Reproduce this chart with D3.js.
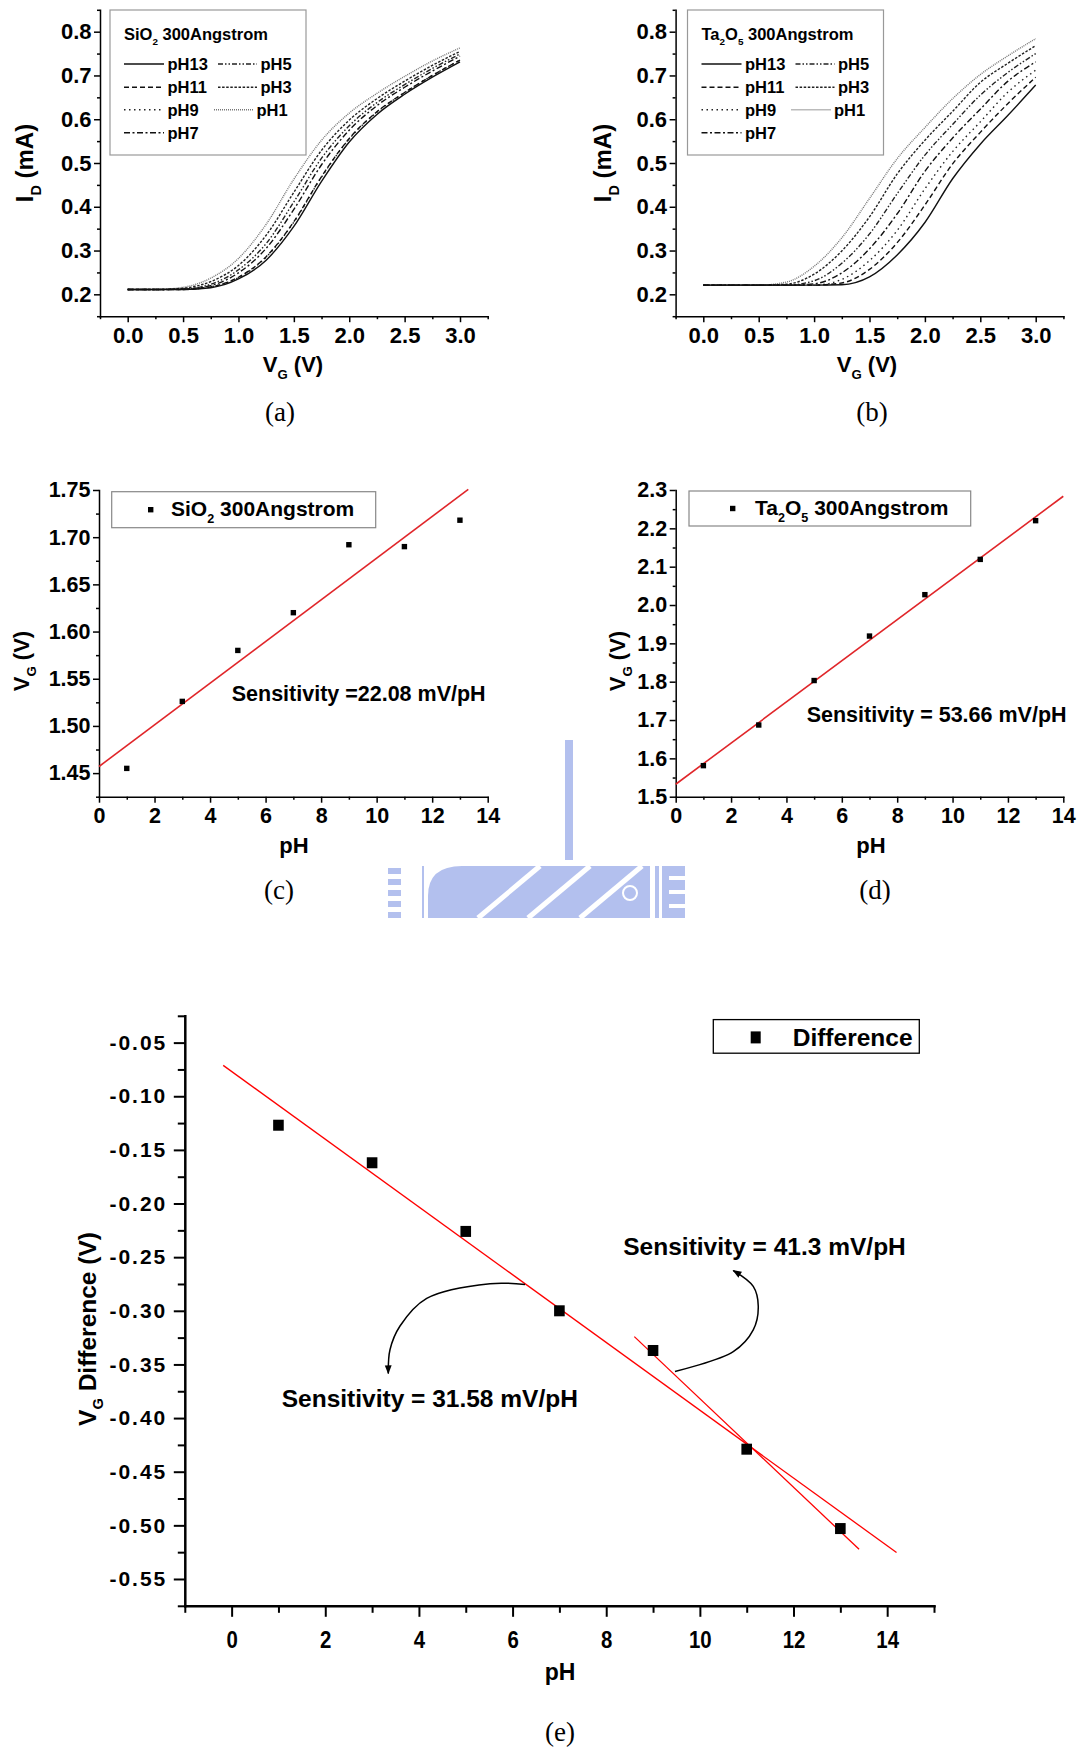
<!DOCTYPE html>
<html>
<head>
<meta charset="utf-8">
<script src="https://cdn.jsdelivr.net/npm/d3@7"></script>
<style>
  body { margin: 0; background: #fff; }
  svg { display: block; font-family: "Liberation Sans", Arial, sans-serif; }
</style>
</head>
<body>
<svg id="fig" width="1082" height="1753"></svg>
<script>
// ---------------- data ----------------
// Gate-voltage sweep (V) shared by all transfer curves
const vgSweep = [0, 0.25, 0.5, 0.75, 1.0, 1.25, 1.5, 1.75, 2.0, 2.25, 2.5, 2.75, 3.0];
const phLabels = ["pH13", "pH11", "pH9", "pH7", "pH5", "pH3", "pH1"];

// SiO2 300 Angstrom, drain current (mA)
const sio2_pH13 = [0.211, 0.211, 0.211, 0.215, 0.235, 0.278, 0.355, 0.458, 0.548, 0.611, 0.657, 0.696, 0.731];
const sio2_pH11 = [0.211, 0.211, 0.211, 0.217, 0.239, 0.286, 0.366, 0.469, 0.556, 0.617, 0.661, 0.700, 0.735];
const sio2_pH9  = [0.211, 0.211, 0.211, 0.217, 0.238, 0.285, 0.365, 0.468, 0.555, 0.616, 0.661, 0.700, 0.735];
const sio2_pH7  = [0.211, 0.211, 0.212, 0.220, 0.249, 0.305, 0.394, 0.496, 0.575, 0.631, 0.673, 0.710, 0.744];
const sio2_pH5  = [0.211, 0.211, 0.212, 0.223, 0.256, 0.316, 0.411, 0.511, 0.585, 0.638, 0.679, 0.716, 0.749];
const sio2_pH3  = [0.211, 0.211, 0.214, 0.229, 0.266, 0.335, 0.433, 0.529, 0.598, 0.647, 0.687, 0.723, 0.755];
const sio2_pH1  = [0.211, 0.211, 0.216, 0.237, 0.282, 0.360, 0.463, 0.552, 0.614, 0.659, 0.698, 0.733, 0.763];

// Ta2O5 300 Angstrom, drain current (mA)
const ta2o5_pH13 = [0.221, 0.221, 0.221, 0.221, 0.221, 0.222, 0.240, 0.290, 0.364, 0.464, 0.543, 0.609, 0.678];
const ta2o5_pH11 = [0.221, 0.221, 0.221, 0.221, 0.221, 0.226, 0.257, 0.318, 0.404, 0.498, 0.570, 0.636, 0.696];
const ta2o5_pH9  = [0.221, 0.221, 0.221, 0.221, 0.221, 0.234, 0.277, 0.346, 0.441, 0.526, 0.594, 0.662, 0.712];
const ta2o5_pH7  = [0.221, 0.221, 0.221, 0.221, 0.224, 0.249, 0.304, 0.384, 0.481, 0.557, 0.623, 0.687, 0.731];
const ta2o5_pH5  = [0.221, 0.221, 0.221, 0.221, 0.231, 0.271, 0.338, 0.430, 0.518, 0.588, 0.655, 0.707, 0.750];
const ta2o5_pH3  = [0.221, 0.221, 0.221, 0.223, 0.246, 0.299, 0.377, 0.475, 0.552, 0.618, 0.684, 0.728, 0.768];
const ta2o5_pH1  = [0.221, 0.221, 0.221, 0.228, 0.264, 0.329, 0.419, 0.510, 0.581, 0.647, 0.702, 0.745, 0.784];

const sio2Curves  = [sio2_pH13, sio2_pH11, sio2_pH9, sio2_pH7, sio2_pH5, sio2_pH3, sio2_pH1];
const ta2o5Curves = [ta2o5_pH13, ta2o5_pH11, ta2o5_pH9, ta2o5_pH7, ta2o5_pH5, ta2o5_pH3, ta2o5_pH1];

// Threshold gate voltage vs pH
const phValues     = [1, 3, 5, 7, 9, 11, 13];
const sio2Vg       = [1.455, 1.526, 1.580, 1.620, 1.692, 1.690, 1.718];
const ta2o5Vg      = [1.581, 1.687, 1.803, 1.919, 2.027, 2.119, 2.220];
const vgDifference = [-0.127, -0.162, -0.226, -0.300, -0.337, -0.429, -0.503];

// Linear fits: sensitivity (mV/pH) and intercept (V) with the pH span drawn
const sio2Sensitivity = 22.08,  sio2Intercept = 1.457,  sio2FitSpan = [0, 13.3];
const ta2o5Sensitivity = 53.66, ta2o5Intercept = 1.5325, ta2o5FitSpan = [0, 14];
const diffSensitivityAll = -31.58, diffInterceptAll = -0.0769, diffFitSpanAll = [-0.18, 14.2];
const diffSensitivityHigh = -41.3, diffInterceptHigh = 0.0311, diffFitSpanHigh = [8.6, 13.4];

// ---------------- styles ----------------
const FONT = "'Liberation Sans', Arial, sans-serif";
const SERIF = "'Liberation Serif', 'Times New Roman', serif";
const curveStyle = {
  pH13: { dash: null,                 color: "#111" },
  pH11: { dash: "5,3",                color: "#111" },
  pH9:  { dash: "1.5,3.5",            color: "#222" },
  pH7:  { dash: "6,2.5,2,2.5",        color: "#111" },
  pH5:  { dash: "5,2,1.5,2,1.5,2",    color: "#222" },
  pH3:  { dash: "2.5,1.6",            color: "#222" },
  pH1:  { dash: "1,1",                color: "#777" }
};
const FIT_RED = "#e0262a";

const svg = d3.select("#fig");

// ---------------- helpers ----------------
function rich(textSel, parts, fs) {
  let shift = 0;
  parts.forEach(([str, kind]) => {
    const t = textSel.append("tspan").text(str);
    if (kind === "sub") {
      t.attr("font-size", fs * 0.6).attr("dy", fs * 0.32 - shift);
      shift = fs * 0.32;
    } else if (shift) {
      t.attr("dy", -shift);
      shift = 0;
    }
  });
  return textSel;
}

function drawAxes(g, x, y, c) {
  const xBase = x.range()[0];
  const yBase = y.range()[0];
  const styleAxis = (ag) => {
    ag.attr("font-size", null).attr("font-family", null);
    ag.selectAll("path.domain").attr("stroke", "#000").attr("stroke-width", c.stroke).attr("stroke-linecap", "square");
    ag.selectAll("line").attr("stroke", "#000").attr("stroke-width", c.tickStroke || c.stroke);
  };
  // minor ticks
  const yMin = g.append("g").attr("transform", `translate(${xBase},0)`)
    .call(d3.axisLeft(y).tickValues(c.yMinor).tickFormat("").tickSize(c.minorLen).tickSizeOuter(0));
  yMin.select("path.domain").remove(); styleAxis(yMin);
  const xMin = g.append("g").attr("transform", `translate(0,${yBase})`)
    .call(d3.axisBottom(x).tickValues(c.xMinor).tickFormat("").tickSize(c.minorLen).tickSizeOuter(0));
  xMin.select("path.domain").remove(); styleAxis(xMin);
  // major ticks with labels
  const yAx = g.append("g").attr("transform", `translate(${xBase},0)`)
    .call(d3.axisLeft(y).tickValues(c.yMajor).tickFormat(c.yFmt).tickSize(c.majorLen).tickSizeOuter(0).tickPadding(c.yPad));
  styleAxis(yAx);
  yAx.selectAll("text").attr("font-family", FONT).attr("font-weight", "bold")
    .attr("font-size", c.yFont || c.font).attr("fill", "#000")
    .style("letter-spacing", c.yLetter ? c.yLetter + "px" : null);
  const xAx = g.append("g").attr("transform", `translate(0,${yBase})`)
    .call(d3.axisBottom(x).tickValues(c.xMajor).tickFormat(c.xFmt).tickSize(c.majorLen).tickSizeOuter(0).tickPadding(c.xPad));
  styleAxis(xAx);
  const xt = xAx.selectAll("text").attr("font-family", FONT).attr("font-weight", "bold")
    .attr("font-size", c.xFont || c.font).attr("fill", "#000");
  if (c.xSquash) xt.attr("transform", `scale(${c.xSquash},1)`);
}

function axisTitleY(g, cx, cy, parts, fs) {
  const t = g.append("text")
    .attr("transform", `translate(${cx},${cy}) rotate(-90)`)
    .attr("text-anchor", "middle").attr("dy", "0.35em")
    .attr("font-family", FONT).attr("font-weight", "bold").attr("font-size", fs);
  rich(t, parts, fs);
}
function axisTitleX(g, cx, baseline, parts, fs) {
  const t = g.append("text").attr("x", cx).attr("y", baseline)
    .attr("text-anchor", "middle")
    .attr("font-family", FONT).attr("font-weight", "bold").attr("font-size", fs);
  rich(t, parts, fs);
}
function caption(g, cx, baseline, label) {
  g.append("text").attr("x", cx).attr("y", baseline).attr("text-anchor", "middle")
    .attr("font-family", SERIF).attr("font-size", 27).text(label);
}
const range = (a, b, s) => d3.range(a, b + s / 2, s).map(v => +v.toFixed(4));

// ---------------- background watermark ----------------
const wm = svg.append("g").attr("fill", "#b3c0ee");
wm.append("rect").attr("x", 565).attr("y", 740).attr("width", 8).attr("height", 120);
[868, 879, 890, 901, 912].forEach(yy => wm.append("rect").attr("x", 388).attr("y", yy).attr("width", 13).attr("height", 6));
wm.append("rect").attr("x", 422).attr("y", 866).attr("width", 2).attr("height", 52);
wm.append("path").attr("d", "M428,918 V896 Q428,866 462,866 H650 V918 Z");
wm.append("rect").attr("x", 655).attr("y", 866).attr("width", 4).attr("height", 52);
wm.append("rect").attr("x", 662).attr("y", 866).attr("width", 23).attr("height", 52);
const wmCut = svg.append("g").attr("stroke", "#fff").attr("fill", "none");
[[478, 918, 540, 866], [528, 918, 590, 866], [580, 918, 642, 866]].forEach(([a, b, c2, d]) =>
  wmCut.append("line").attr("x1", a).attr("y1", b).attr("x2", c2).attr("y2", d).attr("stroke-width", 5));
wmCut.append("circle").attr("cx", 630).attr("cy", 893).attr("r", 7).attr("stroke-width", 2);
[876, 890, 904].forEach(yy => svg.append("rect").attr("x", 669).attr("y", yy).attr("width", 16).attr("height", 4).attr("fill", "#fff"));

// ---------------- panels (a) and (b): transfer curves ----------------
function transferPanel(cfg) {
  const g = svg.append("g");
  const x = d3.scaleLinear().domain([-0.25, 3.25]).range(cfg.xr);
  const y = d3.scaleLinear().domain([0.15, 0.85]).range([316.2, 9.8]);

  const line = d3.line().x(d => x(d[0])).y(d => y(d[1])).curve(d3.curveMonotoneX);
  const order = [6, 5, 4, 3, 2, 1, 0];
  order.forEach(i => {
    const st = curveStyle[phLabels[i]];
    g.append("path")
      .datum(vgSweep.map((v, k) => [v, cfg.curves[i][k]]))
      .attr("d", line).attr("fill", "none")
      .attr("stroke", st.color).attr("stroke-width", 1.4)
      .attr("stroke-dasharray", st.dash);
  });

  drawAxes(g, x, y, {
    xMajor: range(0, 3, 0.5), xMinor: range(-0.25, 3.25, 0.5),
    yMajor: range(0.2, 0.8, 0.1), yMinor: range(0.15, 0.85, 0.1),
    xFmt: d3.format(".1f"), yFmt: d3.format(".1f"),
    majorLen: 6, minorLen: 3, stroke: 1.5, font: 22, xPad: 5.5, yPad: 2.5
  });

  // legend
  const L = cfg.legend;
  const lg = g.append("g");
  lg.append("rect").attr("x", L.x).attr("y", 10).attr("width", L.w).attr("height", 145)
    .attr("fill", "#fff").attr("stroke", "#999").attr("stroke-width", 1.2);
  rich(lg.append("text").attr("x", L.x + 14).attr("y", 39.5)
    .attr("font-family", FONT).attr("font-weight", "bold").attr("font-size", 16.5), cfg.title, 16.5);
  const rows = [64, 87.3, 109.8, 132.8];
  const placements = [
    [0, 0, 0], [1, 0, 1], [2, 0, 2], [3, 0, 3],
    [4, 1, 0], [5, 1, 1], [6, 1, 2]
  ];
  placements.forEach(([i, col, row]) => {
    const name = phLabels[i];
    const st = curveStyle[name];
    const short = name === "pH1";
    const x0 = col === 0 ? L.x + 14 : L.x + 108 - (short ? 4 : 0);
    const x1 = col === 0 ? L.x + 54 : L.x + 147 - (short ? 4 : 0);
    lg.append("line").attr("x1", x0).attr("x2", x1).attr("y1", rows[row]).attr("y2", rows[row])
      .attr("stroke", st.color).attr("stroke-width", 1.4).attr("stroke-dasharray", st.dash);
    lg.append("text").attr("x", x1 + 3.5).attr("y", rows[row] + 6)
      .attr("font-family", FONT).attr("font-weight", "bold").attr("font-size", 16.5).text(name);
  });

  axisTitleY(g, cfg.yTitleX, 163, [["I"], ["D", "sub"], [" (mA)"]], 24);
  axisTitleX(g, cfg.xTitleX, 372, [["V"], ["G", "sub"], [" (V)"]], 22);
  caption(g, cfg.capX, 421, cfg.cap);
}

transferPanel({
  xr: [100, 487.7], curves: sio2Curves,
  legend: { x: 110, w: 196 },
  title: [["SiO"], ["2", "sub"], [" 300Angstrom"]],
  yTitleX: 25, xTitleX: 293, capX: 280, cap: "(a)"
});
transferPanel({
  xr: [675.6, 1063.4], curves: ta2o5Curves,
  legend: { x: 687.5, w: 196 },
  title: [["Ta"], ["2", "sub"], ["O"], ["5", "sub"], [" 300Angstrom"]],
  yTitleX: 603, xTitleX: 867, capX: 872, cap: "(b)"
});

// ---------------- panels (c) and (d): VG vs pH ----------------
function vgPanel(cfg) {
  const g = svg.append("g");
  const x = d3.scaleLinear().domain([0, 14]).range(cfg.xr);
  const y = d3.scaleLinear().domain(cfg.yd).range([796.7, 490]);

  drawAxes(g, x, y, {
    xMajor: range(0, 14, 2), xMinor: range(1, 13, 2),
    yMajor: cfg.yMajor, yMinor: cfg.yMinor,
    xFmt: d3.format("d"), yFmt: cfg.yFmt,
    majorLen: 6, minorLen: 3, stroke: 1.5, font: 21.5, xPad: 5.5, yPad: 2.5
  });

  const slope = cfg.sens / 1000;
  g.append("line")
    .attr("x1", x(cfg.span[0])).attr("y1", y(cfg.icpt + slope * cfg.span[0]))
    .attr("x2", x(cfg.span[1])).attr("y2", y(cfg.icpt + slope * cfg.span[1]))
    .attr("stroke", FIT_RED).attr("stroke-width", 1.6);

  g.selectAll("rect.pt").data(phValues.map((p, i) => [p, cfg.vg[i]])).enter()
    .append("rect").attr("class", "pt")
    .attr("x", d => x(d[0]) - 2.7).attr("y", d => y(d[1]) - 2.7)
    .attr("width", 5.4).attr("height", 5.4).attr("fill", "#000");

  // legend
  const L = cfg.legend;
  g.append("rect").attr("x", L.x).attr("y", L.y).attr("width", L.w).attr("height", L.h)
    .attr("fill", "none").attr("stroke", "#888").attr("stroke-width", 1.2);
  g.append("rect").attr("x", L.mx - 2.7).attr("y", L.y + L.h / 2 - 2.7)
    .attr("width", 5.4).attr("height", 5.4).attr("fill", "#000");
  rich(g.append("text").attr("x", L.tx).attr("y", L.y + L.h / 2 + 6.5)
    .attr("font-family", FONT).attr("font-weight", "bold").attr("font-size", 21), cfg.title, 21);

  g.append("text").attr("x", x(cfg.note[0])).attr("y", y(cfg.note[1]))
    .attr("font-family", FONT).attr("font-weight", "bold").attr("font-size", 21.5)
    .text(cfg.noteText);

  axisTitleY(g, cfg.yTitleX, 661, [["V"], ["G", "sub"], [" (V)"]], 22);
  axisTitleX(g, cfg.xTitleX, 853, [["pH"]], 22);
  caption(g, cfg.capX, 899, cfg.cap);
}

vgPanel({
  xr: [99, 487.7], yd: [1.425, 1.75],
  yMajor: range(1.45, 1.75, 0.05), yMinor: range(1.425, 1.725, 0.05), yFmt: d3.format(".2f"),
  vg: sio2Vg, sens: sio2Sensitivity, icpt: sio2Intercept, span: sio2FitSpan,
  legend: { x: 111.7, y: 491.7, w: 264, h: 36, mx: 150.7, tx: 171 },
  title: [["SiO"], ["2", "sub"], [" 300Angstrom"]],
  note: [4.78, 1.5268], noteText: "Sensitivity =22.08 mV/pH",
  yTitleX: 21, xTitleX: 294, capX: 279, cap: "(c)"
});
vgPanel({
  xr: [675.7, 1063.3], yd: [1.5, 2.3],
  yMajor: range(1.5, 2.3, 0.1), yMinor: range(1.55, 2.25, 0.1), yFmt: d3.format(".1f"),
  vg: ta2o5Vg, sens: ta2o5Sensitivity, icpt: ta2o5Intercept, span: ta2o5FitSpan,
  legend: { x: 689, y: 491, w: 281.7, h: 35, mx: 732.7, tx: 755 },
  title: [["Ta"], ["2", "sub"], ["O"], ["5", "sub"], [" 300Angstrom"]],
  note: [4.73, 1.6956], noteText: "Sensitivity = 53.66 mV/pH",
  yTitleX: 617, xTitleX: 871, capX: 875, cap: "(d)"
});

// ---------------- panel (e): VG difference vs pH ----------------
(function () {
  const g = svg.append("g");
  const x = d3.scaleLinear().domain([-1, 15]).range([184.8, 934]);
  const y = d3.scaleLinear().domain([-0.575, -0.025]).range([1605.8, 1015.8]);

  drawAxes(g, x, y, {
    xMajor: range(0, 14, 2), xMinor: range(-1, 15, 2),
    yMajor: range(-0.55, -0.05, 0.05), yMinor: range(-0.575, -0.025, 0.05),
    xFmt: d3.format("d"), yFmt: v => v.toFixed(2),
    majorLen: 11, minorLen: 7, stroke: 2.5, tickStroke: 2, font: 24, xSquash: 0.85, yFont: 21, yLetter: 2,
    xPad: 14, yPad: 6.5
  });

  // fitted lines
  [[diffSensitivityAll, diffInterceptAll, diffFitSpanAll],
   [diffSensitivityHigh, diffInterceptHigh, diffFitSpanHigh]].forEach(([s, b, sp]) => {
    const k = s / 1000;
    g.append("line")
      .attr("x1", x(sp[0])).attr("y1", y(b + k * sp[0]))
      .attr("x2", x(sp[1])).attr("y2", y(b + k * sp[1]))
      .attr("stroke", "#ff0000").attr("stroke-width", 1.3);
  });

  g.selectAll("rect.pt").data(phValues.map((p, i) => [p, vgDifference[i]])).enter()
    .append("rect").attr("class", "pt")
    .attr("x", d => x(d[0]) - 5.3).attr("y", d => y(d[1]) - 5.5)
    .attr("width", 10.6).attr("height", 11).attr("fill", "#000");

  // curved pointer arrows linking each fit to its sensitivity label
  const defs = svg.append("defs");
  defs.append("marker").attr("id", "tip").attr("viewBox", "0 0 10 10")
    .attr("refX", 9).attr("refY", 5).attr("markerWidth", 9).attr("markerHeight", 9)
    .attr("markerUnits", "userSpaceOnUse").attr("orient", "auto")
    .append("path").attr("d", "M0,1.2 L10,5 L0,8.8 Z").attr("fill", "#000");
  const arrowLine = d3.line().x(d => x(d[0])).y(d => y(d[1])).curve(d3.curveCatmullRom.alpha(0.5));
  const arrowA = [[6.265, -0.2755], [5.518, -0.2747], [4.166, -0.2884], [3.596, -0.3142], [3.382, -0.3363], [3.346, -0.3584]];
  const arrowB = [[9.468, -0.3565], [10.713, -0.3381], [11.14, -0.3178], [11.247, -0.2957], [11.14, -0.2773], [10.713, -0.2625]];
  [arrowA, arrowB].forEach(pts => g.append("path").datum(pts).attr("d", arrowLine)
    .attr("fill", "none").attr("stroke", "#000").attr("stroke-width", 1.5).attr("marker-end", "url(#tip)"));

  g.append("text").attr("x", x(1.07)).attr("y", y(-0.3897))
    .attr("font-family", FONT).attr("font-weight", "bold").attr("font-size", 24.5)
    .text("Sensitivity = 31.58 mV/pH");
  g.append("text").attr("x", x(8.364)).attr("y", y(-0.2478))
    .attr("font-family", FONT).attr("font-weight", "bold").attr("font-size", 24.5)
    .text("Sensitivity = 41.3 mV/pH");

  // legend
  g.append("rect").attr("x", 713.3).attr("y", 1019.6).attr("width", 206).attr("height", 33.6)
    .attr("fill", "#fff").attr("stroke", "#000").attr("stroke-width", 1.3);
  g.append("rect").attr("x", 750.7).attr("y", 1031.4).attr("width", 10).attr("height", 12).attr("fill", "#000");
  g.append("text").attr("x", 792.7).attr("y", 1045.5)
    .attr("font-family", FONT).attr("font-weight", "bold").attr("font-size", 24.5).text("Difference");

  axisTitleY(g, 87, 1329, [["V"], ["G", "sub"], [" Difference (V)"]], 24.5);
  axisTitleX(g, 560, 1680, [["pH"]], 23);
  caption(g, 560, 1741, "(e)");
})();
</script>
</body>
</html>
